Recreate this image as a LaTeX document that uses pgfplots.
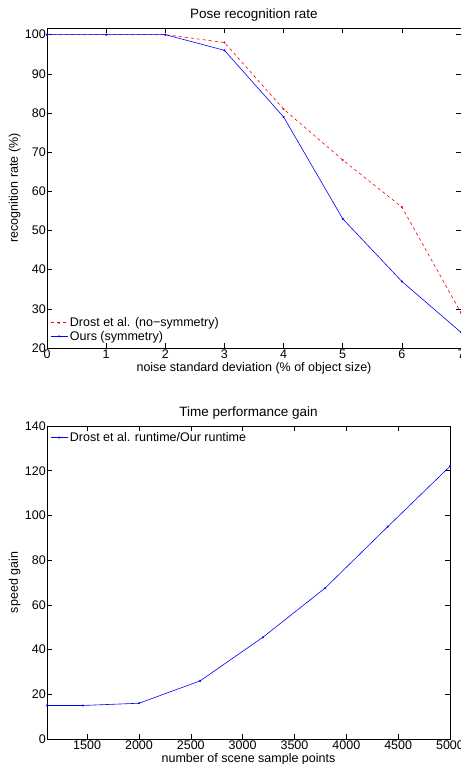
\documentclass[border=0pt]{standalone}
\usepackage{fontspec}
\setmainfont{Liberation Sans}
\usepackage{pgfplots}
\pgfplotsset{compat=1.18}

\pgfplotsset{
  matlab/.style={
    scale only axis,
    font=\fontsize{12.5}{14}\selectfont,
    /pgf/number format/assume math mode=true,
    /pgf/number format/1000 sep={},
    axis line style={black, line width=0.9pt},
    tick style={black, line width=0.6pt},
    tick align=inside,
    major tick length=5pt,
    xtick pos=both, ytick pos=both,
    xticklabel style={inner sep=1pt, yshift=-1pt},
    yticklabel style={inner sep=1pt},
    every axis x label/.style={at={(ticklabel cs:0.5)},anchor=north,yshift=1pt},
    every axis y label/.style={at={(ticklabel cs:0.5)},anchor=south,rotate=90,yshift=0pt},
    title style={font=\fontsize{13.5}{15}\selectfont, yshift=-3pt},
    legend style={draw=none, fill=none, font=\fontsize{12.5}{14}\selectfont,
      row sep=-1pt, inner sep=1pt},
    legend cell align=left,
    legend image post style={sharp plot},
    scaled ticks=false,
  }
}

\begin{document}
\begin{tikzpicture}
\path[use as bounding box] (0pt,0pt) rectangle (461pt,-764pt);

\begin{axis}[matlab,
  at={(47pt,-348pt)}, anchor=south west,
  width=414pt, height=320pt,
  xmin=0, xmax=7, ymin=20, ymax=101.7,
  xtick={0,1,...,7}, ytick={20,30,...,100},
  title={Pose recognition rate},
  xlabel={noise standard deviation (\% of object size)},
  ylabel={recognition rate (\%)},
  legend style={at={(0.005,0.01)}, anchor=south west},
]
\addplot[red, dashed, line width=0.6pt, mark=*, mark size=0.7pt, mark options={solid}] coordinates {
  (0,100) (1,100) (2,100) (3,98) (4,81) (5,68) (6,56) (7,29)
};
\addlegendentry{Drost et al. (no−symmetry)}
\addplot[blue, line width=0.6pt, mark=*, mark size=0.7pt] coordinates {
  (0,100) (1,100) (2,100) (3,96) (4,79) (5,53) (6,37) (7,24)
};
\addlegendentry{Ours (symmetry)}
\end{axis}

\begin{axis}[matlab,
  at={(47pt,-739pt)}, anchor=south west,
  width=403pt, height=313pt,
  xmin=1113, xmax=5000, ymin=0, ymax=140,
  xtick={1500,2000,...,5000}, ytick={0,20,...,140},
  title={Time performance gain},
  xlabel={number of scene sample points},
  ylabel={speed gain},
  legend style={at={(0.005,0.99)}, anchor=north west},
]
\addplot[blue, line width=0.6pt, mark=*, mark size=0.7pt] coordinates {
  (1113,15) (1460,15) (2000,16) (2590,26) (3195,45.5) (3795,67.5) (4400,95) (5000,122)
};
\addlegendentry{Drost et al. runtime/Our runtime}
\end{axis}
\end{tikzpicture}
\end{document}
